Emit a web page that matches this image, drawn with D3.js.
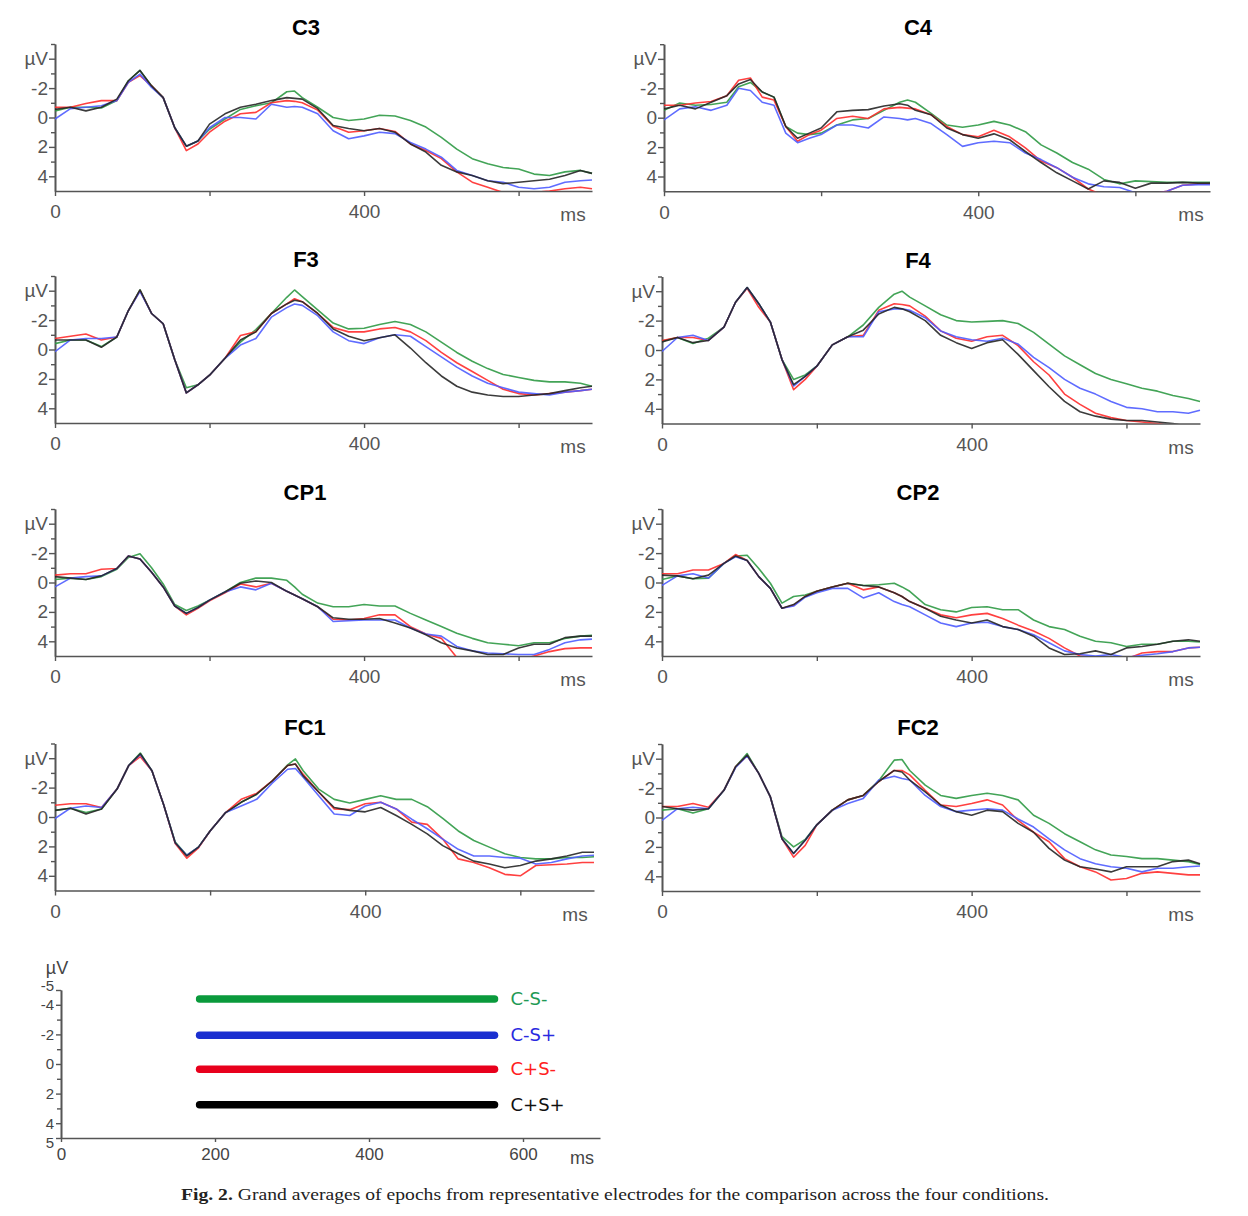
<!DOCTYPE html>
<html><head><meta charset="utf-8">
<script src="https://cdn.jsdelivr.net/npm/d3@7"></script>
<style>body{margin:0;background:#fff}svg{display:block}</style>
</head><body><svg id="c" width="1248" height="1216"></svg>
<script>
// ---------- DATA ----------
const times = [0,20,40,60,80,95,110,125,140,155,170,185,200,220,240,260,280,300,310,320,340,360,380,400,420,440,460,480,500,520,540,560,580,600,620,640,660,680,695];
const conditions = ["C-S-","C-S+","C+S-","C+S+"];
const electrodes = ["C3","C4","F3","F4","CP1","CP2","FC1","FC2"];
const yTickValues = [-4,-2,0,2,4];
const yTickLabels = ["µV","-2","0","2","4"];
const xTickValues = [0,200,400,600];
const xTickLabels = ["0","","400",""];
const xUnit = "ms";
const legendTickValues = [-5,-4,-2,0,2,4,5];
const legendXTicks = [0,200,400,600];
const legendLevels = [-4.4,-1.95,0.35,2.75];
const legendSpan = [180,563];
const caption = "Grand averages of epochs from representative electrodes for the comparison across the four conditions.";

const C3_CmSm = [-0.45,-0.7,-0.7,-0.65,-1.15,-2.5,-3.2,-2.15,-1.35,0.7,1.95,1.6,0.8,0.1,-0.55,-0.8,-1.0,-1.75,-1.8,-1.35,-0.7,0.0,0.2,0.1,-0.15,-0.1,0.2,0.65,1.35,2.15,2.8,3.15,3.4,3.5,3.85,3.95,3.7,3.6,3.8];
const C3_CmSp = [0.1,-0.6,-0.7,-0.8,-1.15,-2.4,-2.95,-2.05,-1.35,0.7,1.95,1.6,0.7,0.0,0.0,0.1,-0.9,-0.7,-0.75,-0.7,-0.25,0.9,1.45,1.25,1.0,1.1,1.7,2.15,2.7,3.6,3.95,4.3,4.4,4.75,4.85,4.75,4.4,4.3,4.25];
const C3_CpSm = [-0.7,-0.7,-0.95,-1.15,-1.15,-2.4,-2.85,-2.15,-1.35,0.7,2.25,1.8,1.0,0.25,-0.25,-0.35,-1.0,-1.15,-1.1,-1.0,-0.5,0.6,1.0,0.9,0.75,0.95,1.8,2.25,2.8,3.7,4.4,4.75,5.1,5.2,5.1,5.0,4.85,4.75,4.85];
const C3_CpSp = [-0.55,-0.7,-0.45,-0.7,-1.25,-2.5,-3.2,-2.15,-1.35,0.7,1.95,1.6,0.45,-0.25,-0.7,-0.9,-1.15,-1.35,-1.3,-1.25,-0.6,0.55,0.75,0.9,0.75,1.0,1.8,2.35,3.25,3.7,3.95,4.3,4.5,4.4,4.3,4.2,3.95,3.6,3.8];

const C4_CmSm = [-0.5,-1.0,-0.85,-0.9,-1.05,-2.1,-2.4,-1.75,-1.4,0.6,1.05,1.15,1.05,0.5,0.15,0.05,-0.5,-1.05,-1.2,-1.05,-0.3,0.5,0.65,0.5,0.25,0.5,0.95,1.85,2.4,3.05,3.5,4.2,4.5,4.3,4.35,4.4,4.4,4.4,4.4];
const C4_CmSp = [0.15,-0.6,-0.75,-0.5,-0.85,-2.0,-1.85,-1.05,-0.85,1.05,1.7,1.4,1.15,0.5,0.5,0.7,-0.05,0.05,0.15,0.05,0.4,1.15,1.95,1.7,1.6,1.7,2.4,2.85,3.4,4.05,4.5,4.7,4.75,5.1,5.2,5.0,4.6,4.55,4.55];
const C4_CpSm = [-0.85,-0.85,-1.0,-1.1,-1.5,-2.55,-2.7,-1.4,-1.2,0.6,1.6,1.15,0.85,0.05,-0.1,0.05,-0.6,-0.7,-0.65,-0.6,-0.2,0.6,1.15,1.3,0.85,1.3,2.05,2.95,3.4,4.05,4.85,5.3,5.5,5.4,5.2,5.0,4.6,4.5,4.5];
const C4_CpSp = [-0.6,-0.85,-0.6,-1.05,-1.5,-2.3,-2.6,-1.75,-1.4,0.6,1.4,1.05,0.7,-0.4,-0.5,-0.55,-0.8,-0.95,-0.85,-0.5,-0.2,0.7,1.15,1.4,1.1,1.5,2.3,3.05,3.75,4.3,4.85,4.3,4.4,4.8,4.45,4.45,4.4,4.45,4.45];

const F3_CmSm = [-0.4,-0.65,-0.65,-0.2,-0.85,-2.65,-4.05,-2.45,-1.75,0.7,2.6,2.4,1.75,0.6,-0.5,-1.35,-2.45,-3.55,-4.05,-3.6,-2.7,-1.8,-1.4,-1.45,-1.7,-1.9,-1.7,-1.2,-0.5,0.2,0.8,1.3,1.7,1.9,2.1,2.2,2.2,2.3,2.5];
const F3_CmSp = [0.15,-0.65,-0.75,-0.75,-0.85,-2.65,-3.95,-2.45,-1.75,0.7,2.95,2.4,1.75,0.6,-0.3,-0.75,-2.2,-2.85,-3.1,-3.0,-2.3,-1.2,-0.6,-0.4,-0.8,-1.0,-0.9,-0.2,0.5,1.2,1.8,2.3,2.6,2.9,3.0,3.1,2.9,2.8,2.7];
const F3_CpSm = [-0.75,-0.9,-1.05,-0.65,-0.85,-2.65,-4.0,-2.45,-1.75,0.7,2.95,2.4,1.75,0.6,-0.95,-1.2,-2.45,-3.1,-3.45,-3.25,-2.45,-1.5,-1.2,-1.2,-1.4,-1.5,-1.2,-0.6,0.2,0.9,1.5,2.1,2.7,3.0,3.1,3.0,2.9,2.8,2.7];
const F3_CpSp = [-0.65,-0.65,-0.65,-0.15,-0.85,-2.65,-4.05,-2.45,-1.75,0.7,2.95,2.4,1.75,0.6,-0.65,-1.2,-2.45,-3.1,-3.35,-3.25,-2.45,-1.4,-0.9,-0.6,-0.8,-1.0,-0.1,0.9,1.8,2.5,2.9,3.1,3.2,3.2,3.1,3.0,2.8,2.6,2.5];

const F4_CmSm = [-0.6,-0.85,-0.45,-0.8,-1.55,-3.25,-4.25,-3.15,-1.9,0.65,2.0,1.7,1.1,-0.35,-0.9,-1.7,-2.9,-3.8,-4.0,-3.6,-3.0,-2.4,-2.0,-1.9,-1.95,-2.0,-1.8,-1.2,-0.4,0.4,1.0,1.6,2.0,2.3,2.6,2.8,3.1,3.3,3.5];
const F4_CmSp = [0.1,-0.85,-1.0,-0.65,-1.55,-3.25,-4.25,-3.15,-1.9,0.65,2.45,1.8,1.1,-0.35,-0.9,-0.9,-2.6,-2.8,-2.8,-2.7,-2.2,-1.3,-0.9,-0.7,-0.6,-0.8,-0.4,0.5,1.2,2.0,2.6,3.0,3.5,3.9,4.0,4.2,4.2,4.3,4.1];
const F4_CpSm = [-0.65,-0.85,-0.85,-0.65,-1.55,-3.25,-4.2,-2.9,-1.9,0.65,2.7,2.0,1.1,-0.35,-0.9,-1.0,-2.7,-3.15,-3.1,-3.0,-2.3,-1.3,-0.8,-0.6,-0.9,-1.0,-0.3,0.8,1.7,3.0,3.7,4.3,4.6,4.8,4.9,5.0,5.2,5.3,5.4];
const F4_CpSp = [-0.55,-0.85,-0.5,-0.65,-1.55,-3.25,-4.25,-3.15,-1.9,0.65,2.35,1.8,1.1,-0.35,-0.9,-1.35,-2.45,-2.9,-2.8,-2.6,-2.0,-1.0,-0.5,-0.1,-0.5,-0.7,0.3,1.4,2.5,3.5,4.2,4.5,4.7,4.8,4.8,4.9,5.0,5.2,5.3];

const CP1_CmSm = [-0.2,-0.3,-0.2,-0.4,-0.9,-1.7,-1.95,-1.0,0.1,1.5,1.9,1.6,1.2,0.65,0.0,-0.3,-0.3,-0.15,0.3,0.8,1.4,1.65,1.65,1.5,1.6,1.6,2.1,2.55,3.0,3.45,3.8,4.1,4.2,4.3,4.1,4.1,3.8,3.65,3.6];
const CP1_CmSp = [0.3,-0.3,-0.4,-0.45,-0.95,-1.8,-1.6,-0.7,0.3,1.6,2.1,1.7,1.2,0.65,0.3,0.5,0.05,0.6,0.85,1.1,1.65,2.65,2.6,2.55,2.55,2.55,3.1,3.5,3.65,4.35,4.65,4.8,4.85,4.9,4.9,4.55,4.1,3.9,3.85];
const CP1_CpSm = [-0.5,-0.6,-0.6,-0.9,-0.95,-1.8,-1.6,-0.7,0.3,1.6,2.2,1.75,1.25,0.7,0.1,0.3,0.05,0.6,0.85,1.1,1.65,2.5,2.55,2.45,2.2,2.2,3.0,3.5,3.8,5.1,5.6,5.8,5.6,5.3,5.0,4.7,4.5,4.45,4.45];
const CP1_CpSp = [-0.4,-0.3,-0.2,-0.45,-0.95,-1.8,-1.6,-0.7,0.3,1.6,2.1,1.7,1.2,0.65,0.05,-0.1,0.0,0.6,0.85,1.1,1.65,2.4,2.5,2.5,2.45,2.75,3.1,3.55,4.1,4.45,4.65,4.9,4.9,4.45,4.2,4.2,3.75,3.65,3.65];

const CP2_CmSm = [-0.2,-0.45,-0.25,-0.3,-1.3,-1.8,-1.85,-0.95,0.05,1.4,0.95,0.85,0.6,0.3,0.05,0.2,0.15,0.05,0.3,0.6,1.5,1.85,2.0,1.7,1.65,1.85,1.85,2.55,3.0,3.2,3.65,4.0,4.1,4.35,4.2,4.2,4.0,4.0,4.05];
const CP2_CmSp = [0.2,-0.45,-0.6,-0.3,-1.3,-1.75,-1.5,-0.4,0.4,1.75,1.6,1.0,0.7,0.4,0.4,1.05,0.7,1.3,1.5,1.65,2.2,2.75,3.0,2.75,2.7,3.0,3.2,3.55,4.1,4.65,4.9,5.0,4.9,5.1,4.95,4.85,4.7,4.45,4.4];
const CP2_CpSm = [-0.6,-0.6,-0.85,-0.85,-1.3,-1.9,-1.5,-0.4,0.4,1.75,1.55,0.95,0.6,0.3,0.05,0.5,0.3,0.7,0.95,1.3,1.75,2.2,2.4,2.2,2.1,2.45,2.9,3.3,3.8,4.45,5.0,5.1,5.3,5.2,4.8,4.7,4.7,4.45,4.4];
const CP2_CpSp = [-0.5,-0.45,-0.25,-0.5,-1.3,-1.8,-1.5,-0.4,0.4,1.75,1.5,0.95,0.6,0.3,0.05,0.2,0.3,0.7,0.95,1.3,1.75,2.3,2.55,2.75,2.55,3.0,3.2,3.65,4.45,4.9,4.85,4.65,4.9,4.45,4.35,4.2,4.0,3.9,4.0];

const FC1_CmSm = [-0.45,-0.6,-0.3,-0.55,-1.9,-3.5,-4.35,-3.15,-0.85,1.7,2.6,2.05,0.95,-0.3,-1.0,-1.55,-2.45,-3.55,-3.95,-3.15,-1.9,-1.2,-0.95,-1.2,-1.45,-1.2,-1.2,-0.7,0.1,0.95,1.6,2.05,2.5,2.75,2.85,2.85,2.75,2.75,2.7];
const FC1_CmSp = [0.1,-0.6,-0.75,-0.65,-1.9,-3.5,-4.25,-3.15,-0.85,1.75,2.6,2.05,0.95,-0.3,-0.75,-1.2,-2.3,-3.25,-3.3,-2.7,-1.45,-0.2,-0.1,-0.75,-1.0,-0.55,0.15,0.8,1.5,2.2,2.65,2.65,2.75,2.8,3.2,3.1,2.85,2.65,2.6];
const FC1_CpSm = [-0.8,-0.9,-0.9,-0.65,-1.9,-3.5,-4.1,-3.15,-0.85,1.8,2.8,2.1,0.95,-0.3,-1.2,-1.6,-2.45,-3.5,-3.6,-2.9,-1.7,-0.55,-0.5,-0.9,-1.0,-0.55,0.35,0.5,1.5,2.85,3.1,3.45,3.9,4.0,3.3,3.25,3.2,3.1,3.1];
const FC1_CpSp = [-0.45,-0.6,-0.2,-0.55,-1.9,-3.5,-4.3,-3.15,-0.85,1.75,2.65,2.05,0.95,-0.3,-1.0,-1.55,-2.45,-3.5,-3.6,-2.8,-1.7,-0.65,-0.45,-0.35,-0.65,-0.1,0.5,1.15,1.95,2.5,3.0,3.2,3.45,3.3,3.0,2.85,2.65,2.4,2.4];

const FC2_CmSm = [-0.5,-0.6,-0.3,-0.6,-1.85,-3.45,-4.35,-3.0,-1.4,1.3,2.0,1.5,0.5,-0.5,-1.2,-1.5,-2.5,-3.9,-3.95,-3.2,-2.2,-1.5,-1.3,-1.5,-1.65,-1.5,-1.2,-0.15,0.4,1.1,1.65,2.2,2.55,2.65,2.8,2.8,2.9,3.0,3.2];
const FC2_CmSp = [0.2,-0.6,-0.7,-0.6,-1.85,-3.4,-4.2,-3.0,-1.4,1.45,2.45,1.55,0.5,-0.5,-0.95,-1.3,-2.55,-2.8,-2.65,-2.55,-1.5,-0.75,-0.4,-0.5,-0.6,-0.5,0.1,0.65,1.45,2.2,2.8,3.15,3.35,3.45,3.7,3.45,3.45,3.35,3.3];
const FC2_CpSm = [-0.75,-0.75,-0.95,-0.7,-1.85,-3.45,-4.2,-3.0,-1.4,1.45,2.7,1.9,0.5,-0.5,-1.2,-1.5,-2.45,-3.2,-3.2,-2.9,-1.85,-0.85,-0.75,-0.95,-1.2,-0.85,0.2,1.0,1.65,2.8,3.35,3.7,4.25,4.15,3.8,3.7,3.8,3.9,3.9];
const FC2_CpSp = [-0.75,-0.6,-0.5,-0.6,-1.85,-3.45,-4.25,-3.0,-1.4,1.45,2.45,1.55,0.5,-0.5,-1.2,-1.5,-2.45,-3.2,-3.1,-2.55,-1.75,-0.85,-0.4,-0.15,-0.5,-0.4,0.4,1.0,2.1,2.9,3.35,3.5,3.7,3.35,3.35,3.35,3.0,2.9,3.15];

// ---------- table built from the arrays ----------
const seriesByElectrode = {
  C3:[C3_CmSm,C3_CmSp,C3_CpSm,C3_CpSp], C4:[C4_CmSm,C4_CmSp,C4_CpSm,C4_CpSp],
  F3:[F3_CmSm,F3_CmSp,F3_CpSm,F3_CpSp], F4:[F4_CmSm,F4_CmSp,F4_CpSm,F4_CpSp],
  CP1:[CP1_CmSm,CP1_CmSp,CP1_CpSm,CP1_CpSp], CP2:[CP2_CmSm,CP2_CmSp,CP2_CpSm,CP2_CpSp],
  FC1:[FC1_CmSm,FC1_CmSp,FC1_CpSm,FC1_CpSp], FC2:[FC2_CmSm,FC2_CmSp,FC2_CpSm,FC2_CpSp]
};

// ---------- layout / style ----------
const colors = ["#2f9a45","#4e5cff","#ff2b2b","#262626"];
const legendColors = ["#0a9a3c","#1a2fd0","#e8001c","#000000"];
const labelColors = ["#1f9a55","#2a2ae0","#ff2020","#111111"];
const drawOrder = [0,2,1,3];
const layout = {
  C3:{x0:55,x1:592,zero:117.5,tx:306}, C4:{x0:664,x1:1210,zero:117.7,tx:918},
  F3:{x0:55,x1:592,zero:349.5,tx:306}, F4:{x0:662,x1:1200,zero:350,tx:918},
  CP1:{x0:55,x1:592,zero:582.5,tx:305}, CP2:{x0:662,x1:1200,zero:582.5,tx:918},
  FC1:{x0:55,x1:594,zero:817,tx:305}, FC2:{x0:662,x1:1200,zero:817.5,tx:918}
};
const HALF = 73.5;
const axisColor = "#555";
const labelFont = "'Liberation Sans', Arial, sans-serif";

const svg = d3.select("#c");
svg.append("rect").attr("width",1248).attr("height",1216).attr("fill","#fff");

function styleAxis(g, size){
  g.selectAll("path.domain").attr("stroke",axisColor).attr("stroke-width",1.6);
  g.selectAll(".tick line").attr("stroke",axisColor).attr("stroke-width",1.4);
  g.selectAll("text").attr("fill","#555").attr("font-size",size).attr("font-family",labelFont);
}

electrodes.forEach(name => {
  const L = layout[name];
  const x = d3.scaleLinear().domain([0,695]).range([L.x0, L.x1]);
  const y = d3.scaleLinear().domain([-5,5]).range([L.zero-HALF, L.zero+HALF]);
  const g = svg.append("g");
  const cid = "clip-"+name;
  svg.append("clipPath").attr("id",cid).append("rect")
    .attr("x",L.x0).attr("y",y(-5)).attr("width",L.x1-L.x0+2).attr("height",y(5)-y(-5));

  // title
  g.append("text").attr("x",L.tx).attr("y",y(-5)-9).attr("text-anchor","middle")
    .attr("font-family",labelFont).attr("font-weight","bold").attr("font-size",22)
    .attr("fill","#000").text(name);

  // y axis minor
  const yMinor = d3.axisLeft(y).tickValues([-5,-3,-1,1,3]).tickSize(4).tickSizeOuter(0).tickFormat("");
  g.append("g").attr("transform",`translate(${L.x0},0)`).call(yMinor).call(s=>styleAxis(s,19));
  // y axis major
  const yMajor = d3.axisLeft(y).tickValues(yTickValues).tickSize(6).tickSizeOuter(0).tickPadding(1)
    .tickFormat((d,i)=>yTickLabels[i]);
  g.append("g").attr("transform",`translate(${L.x0},0)`).call(yMajor).call(s=>styleAxis(s,19));

  // x axis
  const xAxis = d3.axisBottom(x).tickValues(xTickValues).tickSize(5).tickSizeOuter(0).tickPadding(9)
    .tickFormat((d,i)=>xTickLabels[i]);
  g.append("g").attr("transform",`translate(0,${y(5)})`).call(xAxis).call(s=>styleAxis(s,19));
  g.append("text").attr("x",L.x1-19).attr("y",y(5)+30).attr("text-anchor","middle")
    .attr("font-family",labelFont).attr("font-size",19).attr("fill","#555").text(xUnit);

  // lines
  const line = d3.line().x((d,i)=>x(times[i])).y(d=>y(d));
  const lg = g.append("g").attr("clip-path",`url(#${cid})`);
  drawOrder.forEach(ci => {
    lg.append("path").datum(seriesByElectrode[name][ci])
      .attr("d",line).attr("fill","none").attr("stroke",colors[ci])
      .attr("stroke-width",1.6).attr("stroke-opacity",0.9).attr("stroke-linejoin","round");
  });
});

// ---------- legend panel ----------
{
  const x = d3.scaleLinear().domain([0,700]).range([61,600]);
  const y = d3.scaleLinear().domain([-5,5]).range([990,1138]);
  const g = svg.append("g");
  const yMinor = d3.axisLeft(y).tickValues([-3,-1,1,3]).tickSize(4).tickSizeOuter(0).tickFormat("");
  g.append("g").attr("transform","translate(61,0)").call(yMinor).call(s=>styleAxis(s,15));
  const yMajor = d3.axisLeft(y).tickValues(legendTickValues).tickSize(5).tickSizeOuter(0).tickPadding(2)
    .tickFormat(d=>String(d));
  const yg = g.append("g").attr("transform","translate(61,0)").call(yMajor).call(s=>styleAxis(s,15));
  yg.selectAll("text").attr("fill","#444")
    .attr("dy",d => d===-5 ? "0.05em" : (d===5 ? "0.6em" : "0.32em"));
  const xAxis = d3.axisBottom(x).tickValues(legendXTicks).tickSize(4).tickSizeOuter(0).tickPadding(6)
    .tickFormat(d=>String(d));
  const xg = g.append("g").attr("transform","translate(0,1138)").call(xAxis).call(s=>styleAxis(s,17));
  xg.selectAll("text").attr("fill","#444");
  g.append("text").attr("x",582).attr("y",1164).attr("text-anchor","middle")
    .attr("font-family",labelFont).attr("font-size",18).attr("fill","#444").text(xUnit);
  g.append("text").attr("x",57).attr("y",974).attr("text-anchor","middle")
    .attr("font-family",labelFont).attr("font-size",18).attr("fill","#444").text("µV");
  conditions.forEach((c,i)=>{
    g.append("line").attr("x1",x(legendSpan[0])).attr("x2",x(legendSpan[1]))
      .attr("y1",y(legendLevels[i])).attr("y2",y(legendLevels[i]))
      .attr("stroke",legendColors[i]).attr("stroke-width",7.5).attr("stroke-linecap","round");
    g.append("text").attr("x",x(legendSpan[1])+16).attr("y",y(legendLevels[i])+6)
      .attr("font-family","'DejaVu Sans', Verdana, sans-serif").attr("font-size",18)
      .attr("fill",labelColors[i]).text(c);
  });
}

// ---------- caption ----------
{
  const t = svg.append("text").attr("x",181).attr("y",1200)
    .attr("font-family","'Liberation Serif','Times New Roman',serif").attr("font-size",16)
    .attr("fill","#222").attr("textLength",868).attr("lengthAdjust","spacingAndGlyphs");
  t.append("tspan").attr("font-weight","bold").text("Fig. 2.");
  t.append("tspan").text("  " + caption);
}
</script></body></html>
